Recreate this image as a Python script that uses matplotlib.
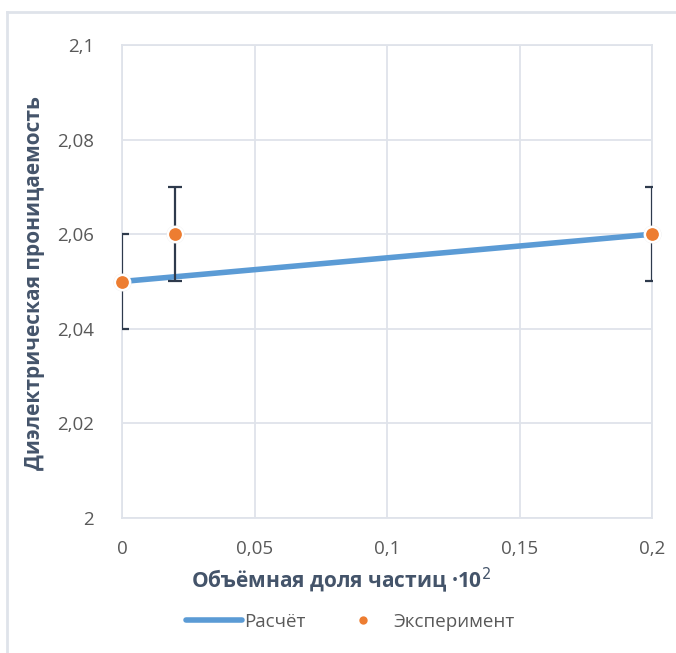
import numpy as np
import matplotlib.pyplot as plt
from matplotlib.lines import Line2D

plt.rcParams['font.family'] = ['Open Sans', 'DejaVu Sans']

# данные
x_calc = [0, 0.2]
y_calc = [2.05, 2.06]

x_exp = [0, 0.02, 0.2]
y_exp = [2.05, 2.06, 2.06]
err_exp = [0.01, 0.01, 0.01]

xticks = [0, 0.05, 0.1, 0.15, 0.2]
xtick_labels = ['0', '0,05', '0,1', '0,15', '0,2']
yticks = [2, 2.02, 2.04, 2.06, 2.08, 2.1]
ytick_labels = ['2', '2,02', '2,04', '2,06', '2,08', '2,1']

W, H = 676, 653
fig = plt.figure(figsize=(W / 100, H / 100), dpi=100)
ax = fig.add_axes([122 / W, 1 - 518 / H, (652 - 122) / W, (518 - 45) / H])

# рамка диаграммы
fig.add_artist(Line2D([7 / W, 7 / W], [0, 1 - 12 / H], transform=fig.transFigure,
                      color='#dfe3ea', lw=2))
fig.add_artist(Line2D([7 / W, 1], [1 - 12 / H, 1 - 12 / H], transform=fig.transFigure,
                      color='#dfe3ea', lw=2))

grid_c = '#dfe3ea'
ax.set_xlim(0, 0.2)
ax.set_ylim(2, 2.1)
ax.set_xticks(xticks)
ax.set_xticklabels(xtick_labels)
ax.set_yticks(yticks)
ax.set_yticklabels(ytick_labels)
ax.grid(True, color=grid_c, lw=1.3)
ax.set_axisbelow(True)
for s in ax.spines.values():
    s.set_color(grid_c)
    s.set_linewidth(1.3)
ax.tick_params(length=0, labelsize=13.5, colors='#595959')
ax.tick_params(axis='x', pad=16)
ax.tick_params(axis='y', pad=20)

ax.plot(x_calc, y_calc, color='#5b9bd5', lw=4, solid_capstyle='round',
        label='Расчёт', zorder=3)
ax.errorbar(x_exp, y_exp, yerr=err_exp, fmt='none', ecolor='#2e3a4c',
            elinewidth=1.6, capsize=5, capthick=1.6, zorder=4)
ax.plot(x_exp, y_exp, 'o', ms=13, mfc='#bbbbbb', mec='none', alpha=0.35,
        zorder=4.5, clip_on=False)
ax.plot(x_exp, y_exp, 'o', ms=11, mfc='#ed7d31', mec='white', mew=1.8,
        label='Эксперимент', zorder=5, clip_on=False)

fig.text(341 / W, 1 - 580 / H, 'Объёмная доля частиц ·10$^2$', fontsize=15,
         fontweight='bold', color='#44546a', ha='center', va='center')
fig.text(35 / W, 1 - 283 / H, 'Диэлектрическая проницаемость', fontsize=15,
         fontweight='bold', color='#44546a', ha='center', va='center',
         rotation=90)

h_line = Line2D([], [], color='#5b9bd5', lw=4, solid_capstyle='round')
h_dot = Line2D([], [], ls='none', marker='o', ms=6, mfc='#ed7d31', mec='none')
fig.legend([h_line, h_dot], ['Расчёт', 'Эксперимент'], loc='center',
           bbox_to_anchor=(350 / W, 1 - 622 / H), ncol=2, frameon=False,
           fontsize=13.5, labelcolor='#595959', handlelength=3.0,
           handletextpad=0.1, columnspacing=1.6)

fig.savefig('out.png', dpi=100)
